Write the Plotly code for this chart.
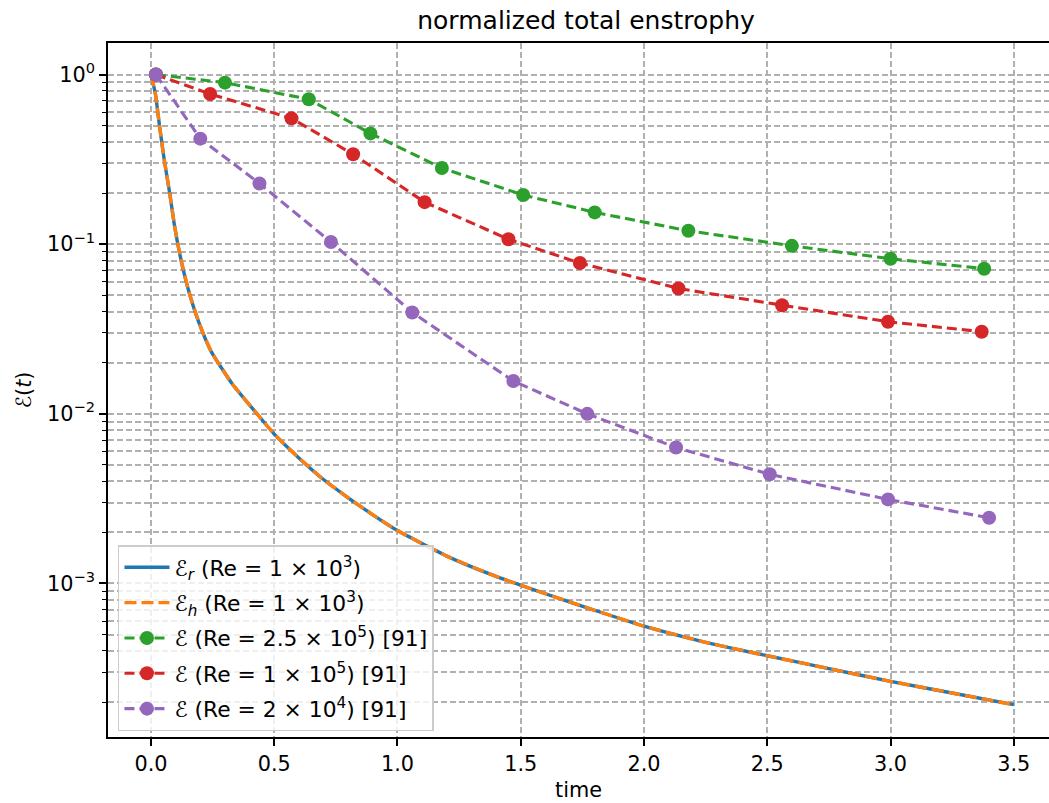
import plotly.graph_objects as go

# ---- data ----
t_dns = [0.0, 0.0174, 0.035, 0.054, 0.076, 0.096, 0.122, 0.153, 0.193, 0.245, 0.33,
         0.43, 0.5, 0.6, 0.7, 0.8, 0.9, 1.0, 1.2, 1.4, 1.6, 1.8, 2.0, 2.25, 2.5,
         2.75, 3.0, 3.25, 3.5]
ens_r = [1.0, 0.776, 0.493, 0.313, 0.1995, 0.127, 0.0806, 0.053, 0.035, 0.0232, 0.0150,
         0.0100, 0.0076, 0.0055, 0.0041, 0.0032, 0.00254, 0.00205, 0.00145, 0.00110, 0.00087,
         0.000695, 0.00056, 0.00045, 0.000375, 0.000315, 0.000265, 0.000226, 0.000193]
ens_h = [1.0, 0.776, 0.493, 0.313, 0.1995, 0.127, 0.0806, 0.053, 0.035, 0.0232, 0.0150,
         0.0100, 0.0076, 0.0055, 0.0041, 0.0032, 0.00254, 0.00205, 0.00145, 0.00110, 0.00087,
         0.000695, 0.00056, 0.00045, 0.000375, 0.000315, 0.000265, 0.000226, 0.000193]

t_g = [0.02, 0.30, 0.64, 0.89, 1.18, 1.51, 1.80, 2.18, 2.60, 3.00, 3.38]
ens_g = [1.0, 0.896, 0.715, 0.450, 0.281, 0.195, 0.154, 0.120, 0.0978, 0.0821, 0.0717]

t_rd = [0.02, 0.24, 0.57, 0.82, 1.11, 1.45, 1.74, 2.14, 2.56, 2.99, 3.37]
ens_rd = [1.0, 0.768, 0.552, 0.339, 0.177, 0.107, 0.0774, 0.0548, 0.0437, 0.0349, 0.0305]

t_p = [0.02, 0.20, 0.44, 0.73, 1.06, 1.47, 1.77, 2.13, 2.51, 2.99, 3.40]
ens_p = [1.0, 0.419, 0.228, 0.103, 0.0396, 0.0156, 0.0100, 0.00633, 0.00440, 0.00313, 0.00244]

y_major = [1e-3, 1e-2, 1e-1, 1.0]
y_major_text = ["10<sup>−3</sup>", "10<sup>−2</sup>", "10<sup>−1</sup>", "10<sup>0</sup>"]
y_minor = [m * 10.0 ** k for k in (-4, -3, -2, -1) for m in range(2, 10)]

names = [
    "ℰ<sub><i>r</i></sub> (Re = 1 × 10<sup>3</sup>)",
    "ℰ<sub><i>h</i></sub> (Re = 1 × 10<sup>3</sup>)",
    "ℰ (Re = 2.5 × 10<sup>5</sup>) [91]",
    "ℰ (Re = 1 × 10<sup>5</sup>) [91]",
    "ℰ (Re = 2 × 10<sup>4</sup>) [91]",
]

FONT = "DejaVu Sans"
FS = 20.8
GRID = "#b0b0b0"
LW = 3.4
MS = 14

fig = go.Figure()
fig.add_trace(go.Scatter(x=t_dns, y=ens_r, mode="lines", name=names[0], legendgroup="a",
                         line=dict(color="#1f77b4", width=LW, shape="spline", smoothing=0.5)))
fig.add_trace(go.Scatter(x=t_dns, y=ens_h, mode="lines", name=names[1], legendgroup="b",
                         line=dict(color="#ff7f0e", width=LW, dash="12px,5px",
                                   shape="spline", smoothing=0.5)))
fig.add_trace(go.Scatter(x=t_g, y=ens_g, mode="lines+markers", name=names[2], legendgroup="c",
                         line=dict(color="#2ca02c", width=LW - 0.3, dash="10px,5px"),
                         marker=dict(size=MS, color="#2ca02c")))
fig.add_trace(go.Scatter(x=t_rd, y=ens_rd, mode="lines+markers", name=names[3], legendgroup="d",
                         line=dict(color="#d62728", width=LW - 0.3, dash="10px,5px"),
                         marker=dict(size=MS, color="#d62728")))
fig.add_trace(go.Scatter(x=t_p, y=ens_p, mode="lines+markers", name=names[4], legendgroup="e",
                         line=dict(color="#9467bd", width=LW - 0.3, dash="10px,5px"),
                         marker=dict(size=MS, color="#9467bd")))

fig.update_layout(
    width=1049, height=803,
    margin=dict(l=108, r=0, t=43, b=66),
    paper_bgcolor="white", plot_bgcolor="white",
    font=dict(family=FONT, size=FS, color="black"),
    title=dict(text="normalized total enstrophy", x=0.508, xref="paper", xanchor="center",
               y=1 - 20 / 803, yref="container", yanchor="middle",
               font=dict(family=FONT, size=25, color="black")),
    showlegend=True,
    legend=dict(x=0.0106, y=0.2765, xanchor="left", yanchor="top",
                bgcolor="rgba(255,255,255,0.8)", bordercolor="#cccccc", borderwidth=1.5,
                font=dict(family=FONT, size=21.8, color="black"),
                tracegroupgap=4, traceorder="grouped", itemwidth=45),
    xaxis=dict(range=[-0.1744, 3.643], tickvals=[0, 0.5, 1, 1.5, 2, 2.5, 3, 3.5],
               ticktext=["0.0", "0.5", "1.0", "1.5", "2.0", "2.5", "3.0", "3.5"],
               showline=True, linecolor="black", linewidth=1.7, mirror=True,
               ticks="outside", ticklen=7, tickwidth=1.7, tickcolor="black",
               showgrid=True, gridcolor=GRID, gridwidth=1.6, griddash="6px,3px",
               zeroline=False,
               title=dict(text="time", font=dict(family=FONT, size=FS), standoff=8)),
    yaxis=dict(type="log", range=[-3.905, 0.186],
               tickvals=y_major, ticktext=y_major_text,
               showline=True, linecolor="black", linewidth=1.7, mirror=False,
               ticks="outside", ticklen=7, tickwidth=1.7, tickcolor="black",
               showgrid=True, gridcolor=GRID, gridwidth=1.6, griddash="6px,3px",
               zeroline=False,
               minor=dict(tickvals=y_minor, ticks="outside", ticklen=4, tickwidth=1.2,
                          tickcolor="black", showgrid=True, gridcolor=GRID, gridwidth=1.6,
                          griddash="6px,3px"),
               title=dict(text="ℰ(<i>t</i>)", font=dict(family=FONT, size=FS), standoff=10)),
)

fig.write_html("out.html")
